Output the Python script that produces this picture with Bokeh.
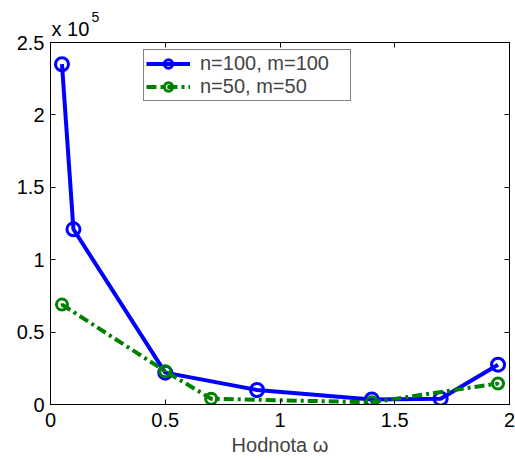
from bokeh.plotting import figure
from bokeh.models import (FixedTicker, LinearAxis, Legend, LegendItem, Range1d)
from bokeh.embed import file_html
from bokeh.resources import INLINE

# ---- data ----
omega_a = [0.05, 0.1, 0.5, 0.9, 1.4, 1.7, 1.95]
vals_a = [235000, 121000, 22000, 10000, 3500, 4000, 27500]
omega_b = [0.05, 0.5, 0.7, 1.4, 1.95]
vals_b = [69000, 23000, 4000, 1500, 14500]
label_a = "n=100, m=100"
label_b = "n=50, m=50"
x_ticks = [0, 0.5, 1, 1.5, 2]
x_tick_labels = ["0", "0.5", "1", "1.5", "2"]
y_ticks = [0, 50000, 100000, 150000, 200000, 250000]
y_tick_labels = ["0", "0.5", "1", "1.5", "2", "2.5"]
x_label = "Hodnota \u03c9"
scale_text = "x 10"
scale_exp = "5"

FONT = "Liberation Sans"
FS = "20px"

p = figure(width=515, height=460, output_backend="svg", toolbar_location=None,
           x_range=Range1d(0, 2), y_range=Range1d(0, 250000),
           min_border_left=50, min_border_right=6, min_border_top=42, min_border_bottom=56,
           background_fill_color="white", border_fill_color="white")
p.xgrid.visible = False
p.ygrid.visible = False
p.outline_line_color = "black"
p.outline_line_width = 1

def style_axis(ax, ticks, labels, show_labels=True):
    ax.ticker = FixedTicker(ticks=ticks)
    ax.major_tick_in = 5
    ax.major_tick_out = 0
    ax.minor_tick_in = 0
    ax.minor_tick_out = 0
    ax.axis_line_color = "black"
    ax.major_tick_line_color = "black"
    ax.major_label_text_font = FONT
    if show_labels:
        ax.major_label_overrides = {t: l for t, l in zip(ticks, labels)}
        ax.major_label_text_font_size = FS
        ax.major_label_text_color = "black"
    else:
        ax.major_label_text_font_size = "1px"
        ax.major_label_text_color = None
        ax.major_label_standoff = 0

xa = p.xaxis[0]
style_axis(xa, x_ticks, x_tick_labels)
xa.major_label_standoff = 8
xa.axis_label = x_label
xa.axis_label_text_font = FONT
xa.axis_label_text_font_size = FS
xa.axis_label_text_font_style = "normal"
xa.axis_label_standoff = 4

ya = p.yaxis[0]
style_axis(ya, y_ticks, y_tick_labels)
ya.major_label_standoff = 6

top = LinearAxis()
style_axis(top, x_ticks, x_tick_labels, show_labels=False)
p.add_layout(top, "above")
right = LinearAxis()
style_axis(right, y_ticks, y_tick_labels, show_labels=False)
p.add_layout(right, "right")

# scale factor "x 10^5" carried by extra, line-less top axes
def text_axis(pos, text, size, standoff):
    ax = LinearAxis(bounds=(0.0, 0.3))
    ax.ticker = FixedTicker(ticks=[pos])
    ax.major_label_overrides = {pos: text}
    ax.major_label_text_font = FONT
    ax.major_label_text_font_size = size
    ax.major_label_text_color = "black"
    ax.major_label_standoff = standoff
    ax.major_tick_line_color = None
    ax.minor_tick_line_color = None
    ax.axis_line_color = None
    return ax

p.add_layout(text_axis(0.087, scale_text, FS, -3), "above")
p.add_layout(text_axis(0.196, scale_exp, "14px", -13), "above")

blue = "#0000ff"
green = "#008000"

la = p.line(omega_a, vals_a, line_color=blue, line_width=4)
sa = p.scatter(omega_a, vals_a, marker="circle", size=13, fill_color=None,
               line_color=blue, line_width=3)
lb = p.line(omega_b, vals_b, line_color=green, line_width=4, line_dash="10 4 3 4")
sb = p.scatter(omega_b, vals_b, marker="circle_dot", size=11, fill_color=None,
               line_color=green, line_width=3)

legend = Legend(items=[LegendItem(label=label_a, renderers=[la, sa]),
                       LegendItem(label=label_b, renderers=[lb, sb])],
                location=(93, 303), orientation="vertical")
legend.label_text_font = FONT
legend.label_text_font_size = FS
legend.label_height = 21
legend.glyph_height = 21
legend.glyph_width = 44
legend.label_width = 148
legend.label_standoff = 10
legend.padding = 2
legend.spacing = 0
legend.margin = 0
legend.border_line_color = "black"
legend.border_line_width = 1
legend.background_fill_color = "white"
legend.background_fill_alpha = 1
p.add_layout(legend, "center")

open("out.html", "w").write(file_html(p, INLINE))
